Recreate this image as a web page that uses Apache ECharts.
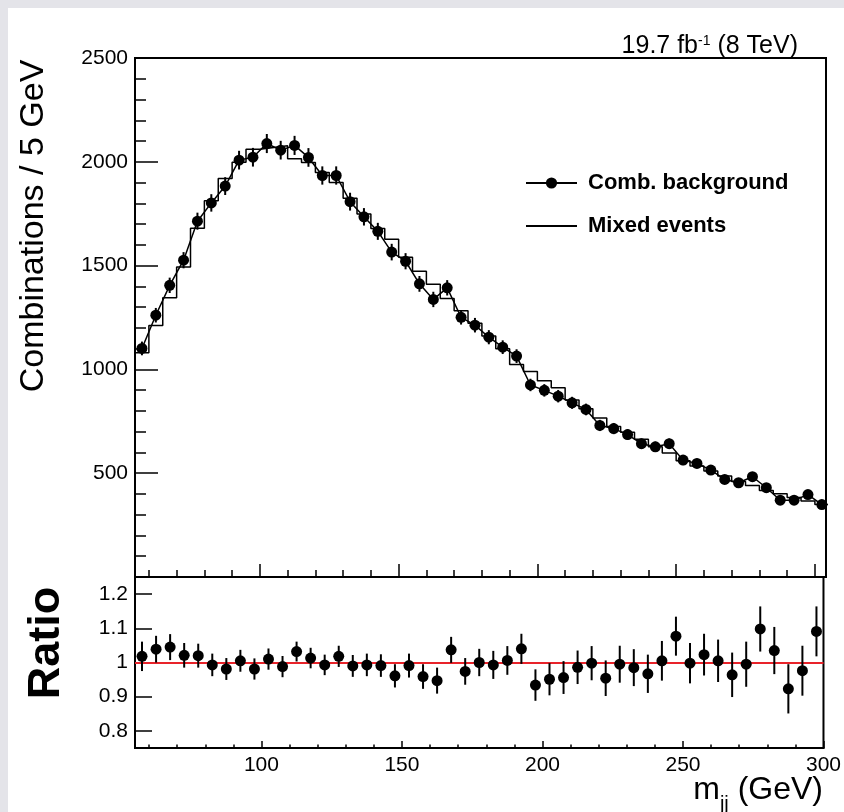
<!DOCTYPE html>
<html>
<head>
<meta charset="utf-8">
<script src="https://cdn.jsdelivr.net/npm/echarts@6/dist/echarts.min.js"></script>
<style>
  body { margin: 0; background: #e4e4e9; }
  #main { position: absolute; left: 8px; top: 8px; width: 836px; height: 804px; background: #fff; }
</style>
</head>
<body>
<div id="main"></div>
<script>
// bin centres, 5 GeV bins
const massCenters = [57.5, 62.5, 67.5, 72.5, 77.5, 82.5, 87.5, 92.5, 97.5, 102.5,
  107.5, 112.5, 117.5, 122.5, 127.5, 132.5, 137.5, 142.5, 147.5, 152.5,
  157.5, 162.5, 167.5, 172.5, 177.5, 182.5, 187.5, 192.5, 197.5, 202.5,
  207.5, 212.5, 217.5, 222.5, 227.5, 232.5, 237.5, 242.5, 247.5, 252.5,
  257.5, 262.5, 267.5, 272.5, 277.5, 282.5, 287.5, 292.5, 297.5, 302.5]
const binHalf = 2.5

const combBackground = [1101, 1261, 1405, 1526, 1714, 1802, 1883, 2008, 2022, 2088,
  2056, 2079, 2021, 1934, 1934, 1808, 1735, 1665, 1565, 1521,
  1412, 1337, 1393, 1251, 1213, 1155, 1107, 1064, 925, 899,
  871, 839, 807, 730, 715, 686, 642, 627, 642, 563,
  547, 515, 470, 454, 483, 430, 370, 370, 397, 349]
const combError = [33, 35, 37, 39, 41, 42, 43, 45, 45, 46,
  45, 46, 45, 44, 44, 43, 42, 41, 40, 39,
  38, 37, 37, 35, 35, 34, 33, 33, 30, 30,
  30, 29, 28, 27, 27, 26, 25, 25, 25, 24,
  23, 23, 22, 21, 22, 21, 19, 19, 20, 19]
const mixedEvents = [1080, 1212, 1345, 1493, 1680, 1812, 1920, 1998, 2060, 2069,
  2077, 2015, 1997, 1948, 1900, 1824, 1748, 1679, 1627, 1540,
  1473, 1410, 1342, 1282, 1222, 1161, 1100, 1024, 990, 945,
  912, 852, 810, 766, 725, 697, 663, 627, 597, 560,
  535, 511, 487, 460, 441, 417, 401, 383, 366, 349]

const ratioValues = [1.018, 1.039, 1.045, 1.021, 1.020, 0.993, 0.981, 1.005, 0.981, 1.010,
  0.988, 1.032, 1.013, 0.993, 1.018, 0.990, 0.993, 0.991, 0.961, 0.991,
  0.959, 0.947, 1.037, 0.974, 1.000, 0.993, 1.006, 1.040, 0.934, 0.951,
  0.956, 0.986, 0.998, 0.954, 0.995, 0.985, 0.967, 1.005, 1.077, 0.998,
  1.023, 1.005, 0.964, 0.995, 1.098, 1.035, 0.923, 0.976, 1.091]
const ratioError = [0.043, 0.039, 0.038, 0.036, 0.035, 0.033, 0.032, 0.032, 0.031, 0.031,
  0.031, 0.029, 0.030, 0.030, 0.031, 0.032, 0.033, 0.033, 0.034, 0.035,
  0.036, 0.038, 0.038, 0.039, 0.040, 0.041, 0.042, 0.044, 0.046, 0.047,
  0.048, 0.049, 0.050, 0.052, 0.054, 0.054, 0.056, 0.058, 0.057, 0.059,
  0.061, 0.062, 0.065, 0.066, 0.066, 0.069, 0.072, 0.073, 0.073]

const xMajorTicks = [100, 150, 200, 250, 300]
const xMinorTicks = [60, 70, 80, 90, 110, 120, 130, 140, 160, 170, 180, 190,
  210, 220, 230, 240, 260, 270, 280, 290]
const ratioTicks = [0.8, 0.9, 1, 1.1, 1.2]

const font = 'Liberation Sans, Arial, Helvetica, sans-serif'
const chart = echarts.init(document.getElementById('main'))

// histogram outline: left edge of every bin, plus the last right edge
const mixedSteps = mixedEvents.map((v, i) => [massCenters[i] - binHalf, v])
mixedSteps.push([massCenters[massCenters.length - 1] + binHalf, mixedEvents[mixedEvents.length - 1]])

const combPoints = combBackground.map((v, i) => [massCenters[i], v])
const combBars = combBackground.map((v, i) => [massCenters[i], v, combError[i]])
const ratioPoints = ratioValues.map((v, i) => [massCenters[i], v])
const ratioBars = ratioValues.map((v, i) => [massCenters[i], v, ratioError[i]])

function errorBar(params, api) {
  const x = api.value(0)
  const y = api.value(1)
  const e = api.value(2)
  const lo = api.coord([x, y - e])
  const hi = api.coord([x, y + e])
  return {
    type: 'line',
    shape: { x1: lo[0], y1: lo[1], x2: hi[0], y2: hi[1] },
    style: { stroke: '#000', lineWidth: 2 },
  }
}

const tickStyle = { color: '#000', width: 1.5 }
const hiddenLabel = { show: false }

const option = {
  animation: false,
  textStyle: { fontFamily: font, color: '#000' },
  grid: [
    { left: 127, width: 691, top: 50, height: 519, show: true, borderColor: '#000', borderWidth: 2, backgroundColor: '#fff' },
    { left: 127, width: 691, top: 569, height: 171, show: true, borderColor: '#000', borderWidth: 2, backgroundColor: '#fff' },
  ],
  xAxis: [
    {
      // top panel, major ticks
      type: 'value', gridIndex: 0, min: 55, max: 304, position: 'bottom',
      axisLine: { lineStyle: { color: '#000', width: 2 } },
      axisTick: { inside: true, length: 13, lineStyle: tickStyle, customValues: xMajorTicks },
      axisLabel: hiddenLabel,
      splitLine: { show: false },
    },
    {
      // top panel, minor ticks
      type: 'value', gridIndex: 0, min: 55, max: 304, position: 'bottom',
      axisLine: { show: false },
      axisTick: { inside: true, length: 7, lineStyle: tickStyle, customValues: xMinorTicks },
      axisLabel: hiddenLabel,
      splitLine: { show: false },
    },
    {
      // ratio panel, labelled axis
      type: 'value', gridIndex: 1, min: 55, max: 300, position: 'bottom',
      axisLine: { lineStyle: { color: '#000', width: 2 } },
      axisTick: { inside: true, length: 7, lineStyle: tickStyle, customValues: xMajorTicks },
      axisLabel: { customValues: xMajorTicks, fontSize: 21, color: '#000', margin: 7 },
      splitLine: { show: false },
    },
    {
      type: 'value', gridIndex: 1, min: 55, max: 300, position: 'bottom',
      axisLine: { show: false },
      axisTick: { inside: true, length: 3.5, lineStyle: tickStyle, customValues: xMinorTicks },
      axisLabel: hiddenLabel,
      splitLine: { show: false },
    },
  ],
  yAxis: [
    {
      type: 'value', gridIndex: 0, min: 0, max: 2500, interval: 500,
      axisLine: { show: true, lineStyle: { color: '#000', width: 2 } },
      axisTick: { show: true, inside: true, length: 23, lineStyle: tickStyle },
      minorTick: { show: true, splitNumber: 5, length: 11, lineStyle: tickStyle },
      axisLabel: { fontSize: 21, color: '#000', margin: 7, showMinLabel: false, formatter: (v) => String(v) },
      splitLine: { show: false },
    },
    {
      type: 'value', gridIndex: 1, min: 0.75, max: 1.25,
      axisLine: { show: true, lineStyle: { color: '#000', width: 2 } },
      axisTick: { show: true, inside: true, length: 17, lineStyle: tickStyle, customValues: ratioTicks },
      axisLabel: { customValues: ratioTicks, fontSize: 21, color: '#000', margin: 7, formatter: (v) => String(v) },
      splitLine: { show: false },
    },
  ],
  legend: {
    data: [
      'Comb. background',
      { name: 'Mixed events', itemStyle: { opacity: 0 } },
    ],
    orient: 'vertical',
    left: 517,
    top: 164,
    padding: 0,
    itemWidth: 51,
    itemHeight: 14,
    itemGap: 21,
    selectedMode: false,
    textStyle: { fontSize: 22, fontWeight: 'bold', color: '#000', fontFamily: font, padding: [0, 0, 0, 6] },
  },
  graphic: [
    {
      type: 'text', x: 790, y: 51,
      style: {
        text: '{a|19.7 fb}{b|-1}{a| (8 TeV)}',
        align: 'right', verticalAlign: 'bottom',
        rich: {
          a: { fontSize: 25, lineHeight: 25, fontFamily: font, fill: '#000', verticalAlign: 'bottom', padding: [7, 0, 0, 0] },
          b: { fontSize: 14, lineHeight: 14, fontFamily: font, fill: '#000', verticalAlign: 'top' },
        },
      },
    },
    {
      type: 'text', x: 26, y: 218, rotation: Math.PI / 2,
      style: { text: 'Combinations / 5 GeV', fontSize: 34, fontFamily: font, fill: '#000', align: 'center', verticalAlign: 'middle' },
    },
    {
      type: 'text', x: 39, y: 635, rotation: Math.PI / 2,
      style: { text: 'Ratio', fontSize: 45, fontWeight: 'bold', fontFamily: font, fill: '#000', align: 'center', verticalAlign: 'middle' },
    },
    {
      type: 'text', x: 815, y: 766,
      style: {
        text: '{a|m}{s|jj}{a| (GeV)}',
        align: 'right', verticalAlign: 'top',
        rich: {
          a: { fontSize: 32, lineHeight: 32, fontFamily: font, fill: '#000' },
          s: { fontSize: 20, lineHeight: 19, fontFamily: font, fill: '#000', verticalAlign: 'top', padding: [20, 0, 0, 0] },
        },
      },
    },
  ],
  series: [
    {
      name: 'Mixed events',
      type: 'line',
      xAxisIndex: 0, yAxisIndex: 0,
      step: 'end',
      symbol: 'none',
      itemStyle: { color: '#000' },
      lineStyle: { color: '#000', width: 1.5 },
      data: mixedSteps,
      z: 2,
    },
    {
      name: 'comb-errors',
      type: 'custom',
      xAxisIndex: 0, yAxisIndex: 0,
      renderItem: errorBar,
      encode: { x: 0, y: 1 },
      data: combBars,
      z: 3,
    },
    {
      name: 'Comb. background',
      type: 'line',
      xAxisIndex: 0, yAxisIndex: 0,
      showLine: false,
      symbol: 'circle',
      symbolSize: 11,
      itemStyle: { color: '#000' },
      lineStyle: { color: '#000', width: 1.5 },
      data: combPoints,
      z: 4,
    },
    {
      name: 'ratio-errors',
      type: 'custom',
      xAxisIndex: 2, yAxisIndex: 1,
      renderItem: errorBar,
      encode: { x: 0, y: 1 },
      data: ratioBars,
      z: 3,
    },
    {
      name: 'ratio',
      type: 'scatter',
      xAxisIndex: 2, yAxisIndex: 1,
      symbol: 'circle',
      symbolSize: 11,
      itemStyle: { color: '#000', opacity: 1 },
      data: ratioPoints,
      z: 4,
      markLine: {
        silent: true,
        symbol: 'none',
        z: 1,
        label: { show: false },
        lineStyle: { color: '#e8232a', width: 2, type: 'solid' },
        data: [{ yAxis: 1 }],
      },
    },
  ],
}

chart.setOption(option)
window.addEventListener('resize', function () {
  chart.resize()
})
</script>
</body>
</html>
